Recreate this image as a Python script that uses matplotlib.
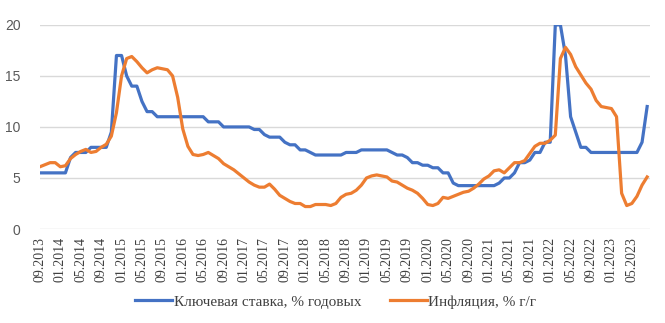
import matplotlib.pyplot as plt
import matplotlib.transforms as mtransforms
import numpy as np

# Ключевая ставка ЦБ и инфляция, помесячно с 09.2013 по 08.2023
key_rate = [
    5.5, 5.5, 5.5, 5.5,                                                  # 2013
    5.5, 5.5, 7.0, 7.5, 7.5, 7.5, 8.0, 8.0, 8.0, 8.0, 9.5, 17.0,         # 2014
    17.0, 15.0, 14.0, 14.0, 12.5, 11.5, 11.5, 11.0, 11.0, 11.0, 11.0, 11.0,  # 2015
    11.0, 11.0, 11.0, 11.0, 11.0, 10.5, 10.5, 10.5, 10.0, 10.0, 10.0, 10.0,  # 2016
    10.0, 10.0, 9.75, 9.75, 9.25, 9.0, 9.0, 9.0, 8.5, 8.25, 8.25, 7.75,  # 2017
    7.75, 7.5, 7.25, 7.25, 7.25, 7.25, 7.25, 7.25, 7.5, 7.5, 7.5, 7.75,  # 2018
    7.75, 7.75, 7.75, 7.75, 7.75, 7.5, 7.25, 7.25, 7.0, 6.5, 6.5, 6.25,  # 2019
    6.25, 6.0, 6.0, 5.5, 5.5, 4.5, 4.25, 4.25, 4.25, 4.25, 4.25, 4.25,   # 2020
    4.25, 4.25, 4.5, 5.0, 5.0, 5.5, 6.5, 6.5, 6.75, 7.5, 7.5, 8.5,       # 2021
    8.5, 20.0, 20.0, 17.0, 11.0, 9.5, 8.0, 8.0, 7.5, 7.5, 7.5, 7.5,      # 2022
    7.5, 7.5, 7.5, 7.5, 7.5, 7.5, 8.5, 12.0,                             # 2023
]
inflation = [
    6.1, 6.3, 6.5, 6.5,
    6.1, 6.2, 6.9, 7.3, 7.6, 7.8, 7.5, 7.6, 8.0, 8.3, 9.1, 11.4,
    15.0, 16.7, 16.9, 16.4, 15.8, 15.3, 15.6, 15.8, 15.7, 15.6, 15.0, 12.9,
    9.8, 8.1, 7.3, 7.2, 7.3, 7.5, 7.2, 6.9, 6.4, 6.1, 5.8, 5.4,
    5.0, 4.6, 4.3, 4.1, 4.1, 4.4, 3.9, 3.3, 3.0, 2.7, 2.5, 2.5,
    2.2, 2.2, 2.4, 2.4, 2.4, 2.3, 2.5, 3.1, 3.4, 3.5, 3.8, 4.3,
    5.0, 5.2, 5.3, 5.2, 5.1, 4.7, 4.6, 4.3, 4.0, 3.8, 3.5, 3.0,
    2.4, 2.3, 2.5, 3.1, 3.0, 3.2, 3.4, 3.6, 3.7, 4.0, 4.4, 4.9,
    5.2, 5.7, 5.8, 5.5, 6.0, 6.5, 6.5, 6.7, 7.4, 8.1, 8.4, 8.4,
    8.7, 9.2, 16.7, 17.8, 17.1, 15.9, 15.1, 14.3, 13.7, 12.6, 12.0, 11.9,
    11.8, 11.0, 3.5, 2.3, 2.5, 3.2, 4.3, 5.1,
]
months = [f"{(8 + i) % 12 + 1:02d}.{2013 + (8 + i) // 12}" for i in range(len(key_rate))]
tick_labels = months[::4]

fig = plt.figure(figsize=(6.65, 3.23), dpi=100)
ax = fig.add_axes([0.060, 0.291, 0.917, 0.632])

x = np.arange(len(months))
ax.plot(x, key_rate, color='#4472C4', linewidth=2.3, label="Ключевая ставка, % годовых")
ax.plot(x, inflation, color='#ED7D31', linewidth=2.3, label="Инфляция, % г/г")

ax.set_xlim(0, len(months) - 0.5)
ax.set_ylim(0, 20)
ax.set_yticks([0, 5, 10, 15, 20])
ax.set_xticks(x[::4])
ax.set_xticklabels(tick_labels, rotation=90, family='Liberation Serif',
                   fontsize=10, color='#404040')
shift = mtransforms.ScaledTranslation(5 / 100, 0, fig.dpi_scale_trans)
for lbl in ax.get_xticklabels():
    lbl.set_transform(lbl.get_transform() + shift)
for lbl in ax.get_yticklabels():
    lbl.set_family('Liberation Sans')
    lbl.set_fontsize(10)
    lbl.set_color('#595959')

ax.grid(axis='y', color='#d9d9d9', linewidth=1)
ax.set_axisbelow(True)
for s in ax.spines.values():
    s.set_visible(False)
ax.tick_params(axis='both', length=0)
ax.tick_params(axis='y', pad=14)
ax.tick_params(axis='x', pad=6)

fig.legend(loc='center', bbox_to_anchor=(0.505, 0.066), ncol=2, frameon=False,
           prop={'family': 'Liberation Serif', 'size': 11},
           handlelength=2.4, handletextpad=0.1, columnspacing=1.9,
           labelcolor='#404040')

fig.savefig('out.png', dpi=100)
